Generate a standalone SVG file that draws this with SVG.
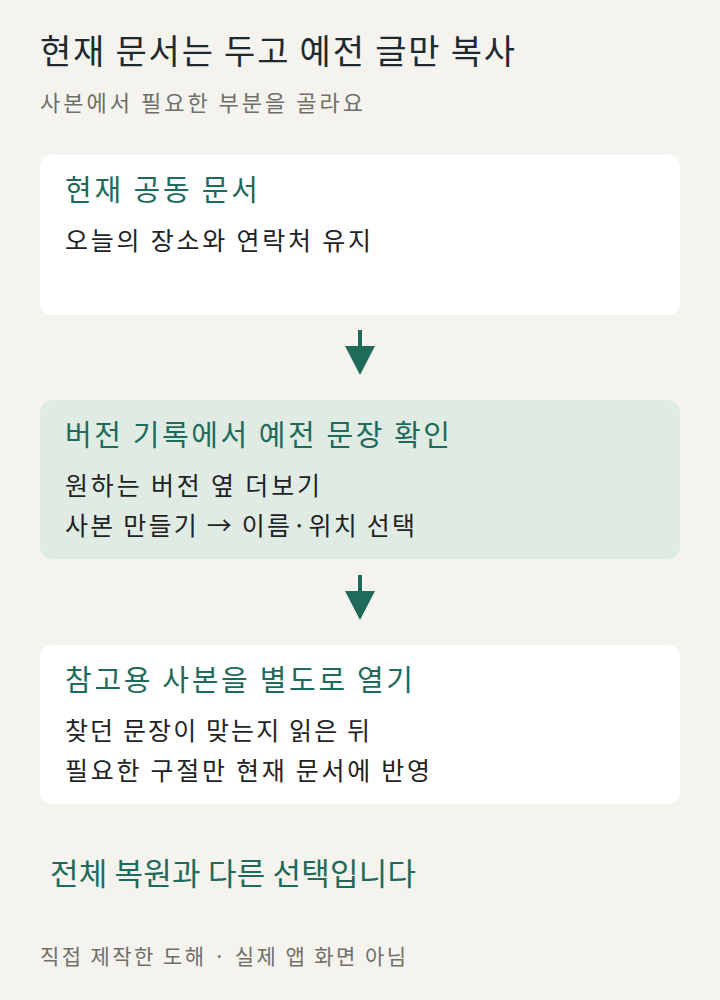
<svg xmlns="http://www.w3.org/2000/svg" width="720" height="1000" viewBox="0 0 720 1000">
<style>
text{font-family:"Noto Sans CJK KR","Noto Sans",sans-serif}
.t{font-size:34px;fill:#1f2a30}
.s{font-size:22px;fill:#6f6f6a}
.h{font-size:29px;fill:#1e6b5c}
.b{font-size:25px;fill:#1f2326}
.f{font-size:21px;fill:#6f6f6a}
</style>
<rect width="720" height="1000" fill="#f4f3ee"/>
<text class="t" x="40" y="64" textLength="475" lengthAdjust="spacing">현재 문서는 두고 예전 글만 복사</text>
<text class="s" x="40" y="111" textLength="323" lengthAdjust="spacing">사본에서 필요한 부분을 골라요</text>
<g id="n1"><rect x="40" y="155" width="640" height="160" rx="12" fill="#fff"/>
<text class="h" x="65" y="201" textLength="193" lengthAdjust="spacing">현재 공동 문서</text>
<text class="b" x="65" y="250" textLength="306" lengthAdjust="spacing">오늘의 장소와 연락처 유지</text></g>
<g id="n2"><rect x="40" y="400" width="640" height="159" rx="12" fill="#e0ece3"/>
<text class="h" x="65" y="446" textLength="385" lengthAdjust="spacing">버전 기록에서 예전 문장 확인</text>
<text class="b" x="65" y="495" textLength="255" lengthAdjust="spacing">원하는 버전 옆 더보기</text>
<text class="b" x="65" y="535" textLength="350" lengthAdjust="spacing">사본 만들기 → 이름·위치 선택</text></g>
<g id="n3"><rect x="40" y="645" width="640" height="159" rx="12" fill="#fff"/>
<text class="h" x="65" y="691" textLength="348" lengthAdjust="spacing">참고용 사본을 별도로 열기</text>
<text class="b" x="65" y="740" textLength="305" lengthAdjust="spacing">찾던 문장이 맞는지 읽은 뒤</text>
<text class="b" x="65" y="780" textLength="365" lengthAdjust="spacing">필요한 구절만 현재 문서에 반영</text></g>
<g id="c" stroke="#1e6b5c" stroke-width="4" fill="#1e6b5c">
<line x1="360" y1="330" x2="360" y2="350"/><path d="M345,346L375,346L360,375z" stroke="none"/>
<line x1="360" y1="575" x2="360" y2="595"/><path d="M345,591L375,591L360,620z" stroke="none"/>
</g>
<text x="50" y="885" textLength="366" lengthAdjust="spacing" style="font-size:31px;fill:#1e6b5c">전체 복원과 다른 선택입니다</text>
<text class="f" x="40" y="964" textLength="366" lengthAdjust="spacing">직접 제작한 도해 · 실제 앱 화면 아님</text>
</svg>
